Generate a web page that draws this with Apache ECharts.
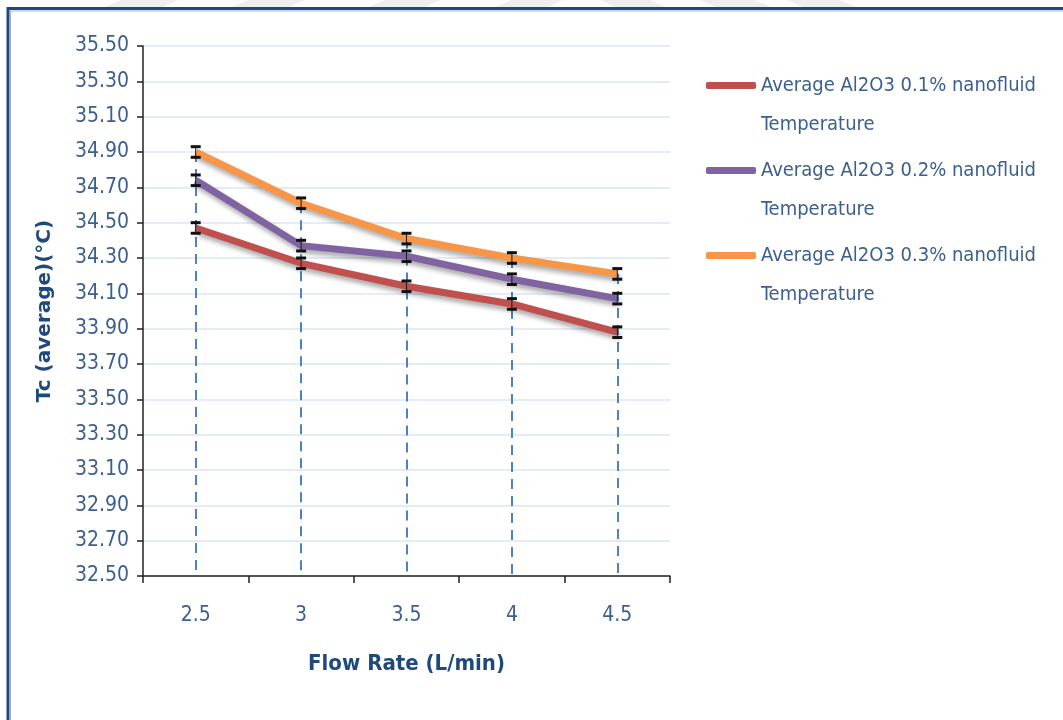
<!DOCTYPE html>
<html><head><meta charset="utf-8">
<script src="https://cdn.jsdelivr.net/npm/echarts@6/dist/echarts.min.js"></script>
<style>html,body{margin:0;padding:0;background:#fff}#c{width:1063px;height:720px}</style>
</head><body><div id="c"></div>
<script>
const categories = ['2.5', '3', '3.5', '4', '4.5'];
const yTickLabels = ['32.50','32.70','32.90','33.10','33.30','33.50','33.70','33.90','34.10','34.30','34.50','34.70','34.90','35.10','35.30','35.50'];
const seriesNames = [
  'Average Al2O3 0.1% nanofluid\nTemperature',
  'Average Al2O3 0.2% nanofluid\nTemperature',
  'Average Al2O3 0.3% nanofluid\nTemperature'
];
const al01 = [34.47, 34.27, 34.14, 34.04, 33.88];
const al02 = [34.74, 34.37, 34.31, 34.18, 34.07];
const al03 = [34.90, 34.61, 34.41, 34.30, 34.21];
const err01 = [0.03, 0.03, 0.03, 0.03, 0.03];
const err02 = [0.03, 0.03, 0.03, 0.03, 0.03];
const err03 = [0.03, 0.03, 0.03, 0.03, 0.03];
const colors = ['#C0504D', '#8064A2', '#F79646'];

const FONT = "'DejaVu Sans Condensed', 'Liberation Sans', sans-serif";
const TXT = '#3B5F8F';
const NAVY = '#1F497D';

const chart = echarts.init(document.getElementById('c'));

function lineSeries(name, data, color) {
  return {
    name, type: 'line', data, symbol: 'none', z: 3,
    lineStyle: { color, width: 7, shadowColor: 'rgba(0,0,0,0.35)', shadowBlur: 5, shadowOffsetX: 2, shadowOffsetY: 4 },
    itemStyle: { color }
  };
}
function errorSeries(vals, errs) {
  return {
    type: 'custom', z: 6, silent: true,
    data: vals.map((v, i) => [i, v - errs[i], v + errs[i]]),
    renderItem(params, api) {
      const lo = api.coord([api.value(0), api.value(1)]);
      const hi = api.coord([api.value(0), api.value(2)]);
      const hw = 5;
      const st = { stroke: '#111', lineWidth: 3 };
      return { type: 'group', children: [
        { type: 'line', shape: { x1: hi[0], y1: hi[1], x2: lo[0], y2: lo[1] }, style: { stroke: '#1a1a1a', lineWidth: 1 } },
        { type: 'line', shape: { x1: hi[0] - hw, y1: hi[1], x2: hi[0] + hw, y2: hi[1] }, style: st },
        { type: 'line', shape: { x1: lo[0] - hw, y1: lo[1], x2: lo[0] + hw, y2: lo[1] }, style: st }
      ]};
    }
  };
}

const yMin = parseFloat(yTickLabels[0]);
const yMax = parseFloat(yTickLabels[yTickLabels.length - 1]);

const dropData = categories.map((c, i) => [
  { coord: [i, Math.max(al01[i], al02[i], al03[i])] },
  { coord: [i, yMin] }
]);

const fan = [[103,0,160,0],[230,0,287,0],[367,0,423,0],[493,0,545,0],[600,0,650,0],[700,0,755,0],[787,0,840,0]];

chart.setOption({
  animation: false,
  textStyle: { fontFamily: FONT },
  graphic: [
    ...fan.map((f, k) => ({
      type: 'polygon', silent: true, z: -1,
      shape: { points: k < 4 ? [[f[0]+18,0],[f[2]+18,0],[f[2],8],[f[0],8]] : [[f[0],0],[f[2],0],[f[2]+18,8],[f[0]+18,8]] },
      style: { fill: '#EEEEEE' }
    })),
    { type: 'rect', silent: true, shape: { x: 8, y: 8.5, width: 1070, height: 730 }, style: { fill: 'none', stroke: NAVY, lineWidth: 3 } },
    { type: 'rect', silent: true, shape: { x: 10.5, y: 11, width: 1070, height: 730 }, style: { fill: 'none', stroke: '#9DB3D3', lineWidth: 1 } }
  ],
  grid: { left: 143, right: 393, top: 46, bottom: 144, containLabel: false },
  legend: {
    orient: 'vertical', left: 706, top: 27, itemGap: -32, padding: 0,
    icon: 'roundRect', itemWidth: 50, itemHeight: 7,
    data: seriesNames,
    formatter: name => '\n' + name,
    textStyle: { color: TXT, fontSize: 20, fontFamily: FONT, lineHeight: 39 },
    itemStyle: { borderWidth: 0 }, lineStyle: { width: 0 }, selectedMode: false
  },
  xAxis: {
    type: 'category', data: categories, boundaryGap: true,
    name: 'Flow Rate (L/min)', nameLocation: 'middle', nameGap: 77,
    nameTextStyle: { color: NAVY, fontSize: 22, fontWeight: 'bold', fontFamily: FONT },
    axisLine: { lineStyle: { color: '#222', width: 1.5 } },
    axisTick: { show: true, length: 7, lineStyle: { color: '#222', width: 1.5 } },
    axisLabel: { color: TXT, fontSize: 21, margin: 29, fontFamily: FONT },
    splitLine: { show: false }
  },
  yAxis: {
    type: 'value', min: yMin, max: yMax, interval: 0.2,
    name: 'Tc (average)(°C)', nameLocation: 'middle', nameGap: 88,
    nameTextStyle: { color: NAVY, fontSize: 20, fontWeight: 'bold', fontFamily: "'DejaVu Sans', sans-serif" },
    axisLine: { show: true, lineStyle: { color: '#222', width: 1.5 } },
    axisTick: { show: true, length: 6, lineStyle: { color: '#222', width: 1.5 } },
    axisLabel: { color: TXT, fontSize: 21, margin: 14, fontFamily: FONT, formatter: v => v.toFixed(2) },
    splitLine: { show: true, lineStyle: { color: '#DCE6F2', width: 1.5 } }
  },
  series: [
    {
      type: 'line', data: [], silent: true,
      markLine: {
        silent: true, symbol: 'none', label: { show: false }, z: 2,
        lineStyle: { color: '#4F81BD', width: 2, type: [10, 7] },
        data: dropData
      }
    },
    lineSeries(seriesNames[0], al01, colors[0]),
    lineSeries(seriesNames[1], al02, colors[1]),
    lineSeries(seriesNames[2], al03, colors[2]),
    errorSeries(al01, err01),
    errorSeries(al02, err02),
    errorSeries(al03, err03)
  ]
});
</script></body></html>
